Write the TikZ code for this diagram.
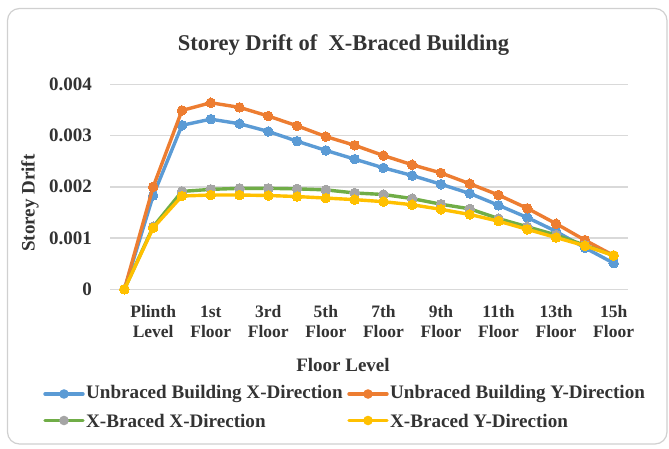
\documentclass[tikz,border=0pt]{standalone}
\usepackage{fontspec}
\setmainfont{Liberation Serif}
\definecolor{cBlue}{HTML}{5B9BD5}
\definecolor{cOrange}{HTML}{ED7D31}
\definecolor{cGray}{HTML}{A5A5A5}
\definecolor{cYellow}{HTML}{FFC000}
\definecolor{cGreen}{HTML}{70AD47}
\definecolor{cGrid}{HTML}{D9D9D9}
\definecolor{cFrame}{HTML}{D0D0D0}
\definecolor{cText}{HTML}{333333}
\tikzset{
  ticklbl/.style={font=\bfseries\fontsize{19}{20}\selectfont, text=cText, anchor=east, inner sep=0pt},
  catlbl/.style={font=\bfseries\fontsize{17.5}{20}\selectfont, text=cText, align=center, inner sep=0pt},
  axtitle/.style={font=\bfseries\fontsize{19}{20}\selectfont, text=cText, inner sep=0pt},
  legtxt/.style={font=\bfseries\fontsize{19.1}{20}\selectfont, text=cText, anchor=west, inner sep=0pt},
  gridln/.style={draw=cGrid, line width=1.4pt},
  serline/.style={line width=3.4pt, line join=round, line cap=round},
  mk/.style={mark=*, mark size=4.8pt, mark options={line width=0pt, fill=#1, draw=#1}},
}
\begin{document}
\begin{tikzpicture}[x=1pt,y=-1pt]
\useasboundingbox (0,0) rectangle (669,448);
\fill[white] (0,0) rectangle (669,448);
\draw[cFrame, line width=1.2pt, rounded corners=12pt] (7.5,8.5) rectangle (667,444);
% title
\node[font=\bfseries\fontsize{22.5}{24}\selectfont, text=cText, inner sep=0pt] (title) at (343.5,45) {Storey Drift of\ \ X-Braced Building};
% grid + tick labels
\foreach \v/\lab in {0/0,1/0.001,2/0.002,3/0.003,4/0.004}{
  \draw[gridln] (110,{289.3-51.25*\v}) -- (628,{289.3-51.25*\v});
  \node[ticklbl] (tick\v) at (92,{289.3-51.25*\v}) {\lab};
}
% category labels
\foreach \i/\a/\b in {1/Plinth/Level,3/1st/Floor,5/3rd/Floor,7/5th/Floor,9/7th/Floor,11/9th/Floor,13/11th/Floor,15/13th/Floor,17/15h/Floor}{
  \node[catlbl] (cat\i) at ({110+28.78*(\i+0.5)},322) {\a\\\b};
}
\node[axtitle] (xtitle) at (343,365) {Floor Level};
\node[axtitle, rotate=90] (ytitle) at (30,203) {Storey Drift};
% data
\begin{scope}[shift={(124.4,289.3)}, x=28.78pt, y=51.25pt]
\draw[serline, cBlue, mk=cBlue] plot coordinates {(0,0) (1,1.83) (2,3.20) (3,3.32) (4,3.23) (5,3.08) (6,2.89) (7,2.71) (8,2.54) (9,2.37) (10,2.22) (11,2.05) (12,1.87) (13,1.64) (14,1.40) (15,1.13) (16,0.81) (17,0.51)};
\draw[serline, cOrange, mk=cOrange] plot coordinates {(0,0) (1,2.00) (2,3.49) (3,3.64) (4,3.55) (5,3.38) (6,3.19) (7,2.98) (8,2.81) (9,2.61) (10,2.43) (11,2.27) (12,2.06) (13,1.84) (14,1.58) (15,1.28) (16,0.96) (17,0.66)};
\draw[serline, cGreen] plot coordinates {(0,0) (1,1.22) (2,1.91) (3,1.95) (4,1.97) (5,1.97) (6,1.96) (7,1.94) (8,1.88) (9,1.85) (10,1.77) (11,1.66) (12,1.57) (13,1.38) (14,1.22) (15,1.06) (16,0.86) (17,0.66)};
\path[mk=cGray] plot coordinates {(0,0) (1,1.22) (2,1.91) (3,1.95) (4,1.97) (5,1.97) (6,1.96) (7,1.94) (8,1.88) (9,1.85) (10,1.77) (11,1.66) (12,1.57) (13,1.38) (14,1.22) (15,1.06) (16,0.86) (17,0.66)};
\draw[serline, cYellow, mk=cYellow] plot coordinates {(0,0) (1,1.20) (2,1.82) (3,1.84) (4,1.84) (5,1.83) (6,1.81) (7,1.78) (8,1.75) (9,1.71) (10,1.65) (11,1.56) (12,1.46) (13,1.33) (14,1.17) (15,1.01) (16,0.85) (17,0.66)};
\end{scope}
% legend
\coordinate (l1a) at (45,394); \coordinate (l1b) at (83,394);
\draw[serline, cBlue] (l1a) -- (l1b); \fill[cBlue] (64,394) circle (4.8);
\node[legtxt] (leg1) at (86,394) {Unbraced Building X-Direction};
\coordinate (l2a) at (349,394); \coordinate (l2b) at (387,394);
\draw[serline, cOrange] (l2a) -- (l2b); \fill[cOrange] (368,394) circle (4.8);
\node[legtxt] (leg2) at (390,394) {Unbraced Building Y-Direction};
\coordinate (l3a) at (45,420.5); \coordinate (l3b) at (83,420.5);
\draw[serline, cGreen] (l3a) -- (l3b); \fill[cGray] (64,420.5) circle (4.8);
\node[legtxt] (leg3) at (86,420.5) {X-Braced X-Direction};
\coordinate (l4a) at (349,420.5); \coordinate (l4b) at (387,420.5);
\draw[serline, cYellow] (l4a) -- (l4b); \fill[cYellow] (368,420.5) circle (4.8);
\node[legtxt] (leg4) at (390,420.5) {X-Braced Y-Direction};
\end{tikzpicture}
\end{document}
